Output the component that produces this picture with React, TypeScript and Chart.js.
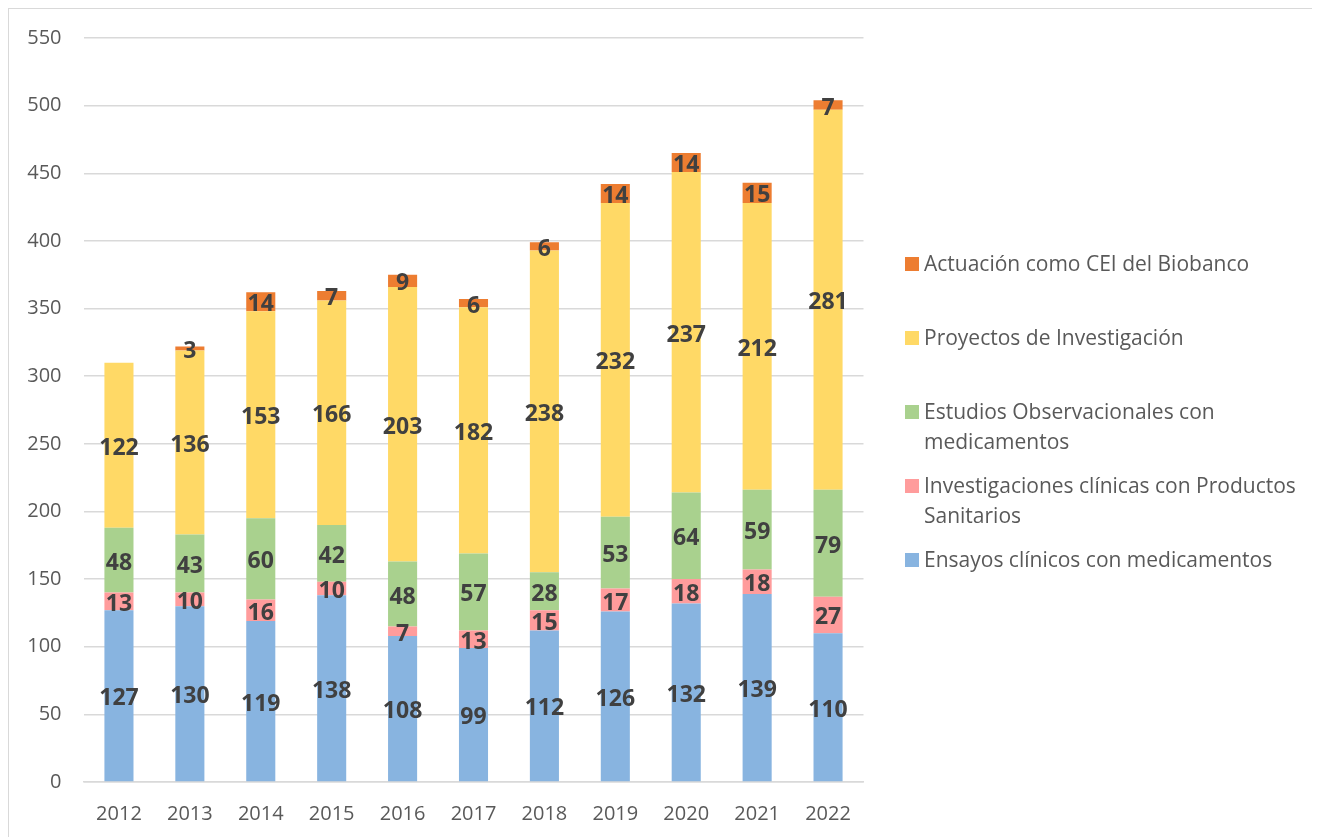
import React, { useEffect, useRef } from "react";
import { Chart, registerables } from "chart.js";

Chart.register(...registerables);

const years = ["2012", "2013", "2014", "2015", "2016", "2017", "2018", "2019", "2020", "2021", "2022"];
const ensayos = [127, 130, 119, 138, 108, 99, 112, 126, 132, 139, 110];
const investigaciones = [13, 10, 16, 10, 7, 13, 15, 17, 18, 18, 27];
const estudios = [48, 43, 60, 42, 48, 57, 28, 53, 64, 59, 79];
const proyectos = [122, 136, 153, 166, 203, 182, 238, 232, 237, 212, 281];
const actuacion = [0, 3, 14, 7, 9, 6, 6, 14, 14, 15, 7];
const yTicks = [0, 50, 100, 150, 200, 250, 300, 350, 400, 450, 500, 550];

const seriesNames = [
  "Ensayos clínicos con medicamentos",
  "Investigaciones clínicas con Productos Sanitarios",
  "Estudios Observacionales con medicamentos",
  "Proyectos de Investigación",
  "Actuación como CEI del Biobanco",
];
const legendLines: string[][] = [
  ["Ensayos clínicos con medicamentos"],
  ["Investigaciones clínicas con Productos", "Sanitarios"],
  ["Estudios Observacionales con", "medicamentos"],
  ["Proyectos de Investigación"],
  ["Actuación como CEI del Biobanco"],
];
const colors = ["#88b4e0", "#ff9c9c", "#a9d18e", "#ffd966", "#ed7d31"];

const FONT = "'Open Sans', 'Noto Sans', sans-serif";

const labelPlugin = {
  id: "segLabels",
  afterDatasetsDraw(chart: any) {
    const ctx = chart.ctx;
    ctx.save();
    ctx.font = `bold 23px ${FONT}`;
    ctx.fillStyle = "#404040";
    ctx.textAlign = "center";
    ctx.textBaseline = "middle";
    chart.data.datasets.forEach((ds: any, di: number) => {
      const meta = chart.getDatasetMeta(di);
      meta.data.forEach((el: any, i: number) => {
        const v = ds.data[i];
        if (!v) return;
        const cy = (el.y + el.base) / 2;
        ctx.fillText(String(v), el.x, cy + 3);
      });
    });
    ctx.restore();
  },
};

const legendPlugin = {
  id: "customLegend",
  afterDraw(chart: any) {
    const ctx = chart.ctx;
    const area = chart.chartArea;
    ctx.save();
    const mx = area.right + 41.5;
    const tx = mx + 19;
    const startY = 255;
    const step = 74;
    const lineH = 30;
    ctx.font = `21px ${FONT}`;
    ctx.textBaseline = "middle";
    ctx.textAlign = "left";
    const order = [4, 3, 2, 1, 0];
    order.forEach((si, k) => {
      const y = startY + k * step;
      ctx.fillStyle = colors[si];
      ctx.fillRect(mx, y - 7, 14, 14);
      ctx.fillStyle = "#595959";
      legendLines[si].forEach((ln, li) => {
        ctx.fillText(ln, tx, y + li * lineH + 1);
      });
    });
    ctx.restore();
  },
};

export default function App() {
  const ref = useRef<HTMLCanvasElement | null>(null);
  useEffect(() => {
    document.documentElement.style.overflow = "hidden";
    const datasets = [ensayos, investigaciones, estudios, proyectos, actuacion].map((d, i) => ({
      label: seriesNames[i],
      data: d,
      backgroundColor: colors[i],
      borderWidth: 0,
      barPercentage: 0.41,
      categoryPercentage: 1,
    }));
    const chart = new Chart(ref.current as HTMLCanvasElement, {
      type: "bar",
      data: { labels: years, datasets },
      options: {
        animation: false,
        responsive: true,
        maintainAspectRatio: false,
        layout: { padding: { left: 0, right: 474.5, top: 29, bottom: 0 } },
        plugins: { legend: { display: false }, tooltip: { enabled: false } },
        scales: {
          x: {
            stacked: true,
            grid: { display: false, drawTicks: false },
            border: { display: true, color: "#d9d9d9", width: 1.5 },
            ticks: { color: "#595959", font: { family: FONT, size: 20 }, padding: 20 },
            afterFit(scale: any) {
              scale.height = 55;
            },
          },
          y: {
            stacked: true,
            min: 0,
            max: 550,
            afterBuildTicks(scale: any) {
              scale.ticks = yTicks.map((v) => ({ value: v }));
            },
            grid: { color: "#d9d9d9", lineWidth: 1.5, drawTicks: false },
            border: { display: false },
            ticks: { color: "#595959", font: { family: FONT, size: 20, lineHeight: 0.5 }, padding: 22 },
            afterFit(scale: any) {
              scale.width = 74.5;
            },
          },
        },
      },
      plugins: [labelPlugin, legendPlugin],
    });
    return () => chart.destroy();
  }, []);
  return (
    <div
      style={{
        width: 1330,
        height: 840,
        boxSizing: "border-box",
        borderTop: "1px solid #d9d9d9",
        borderLeft: "1px solid #d9d9d9",
      }}
    >
      <div style={{ position: "relative", width: 1329, height: 828 }}>
        <canvas ref={ref} />
      </div>
    </div>
  );
}
